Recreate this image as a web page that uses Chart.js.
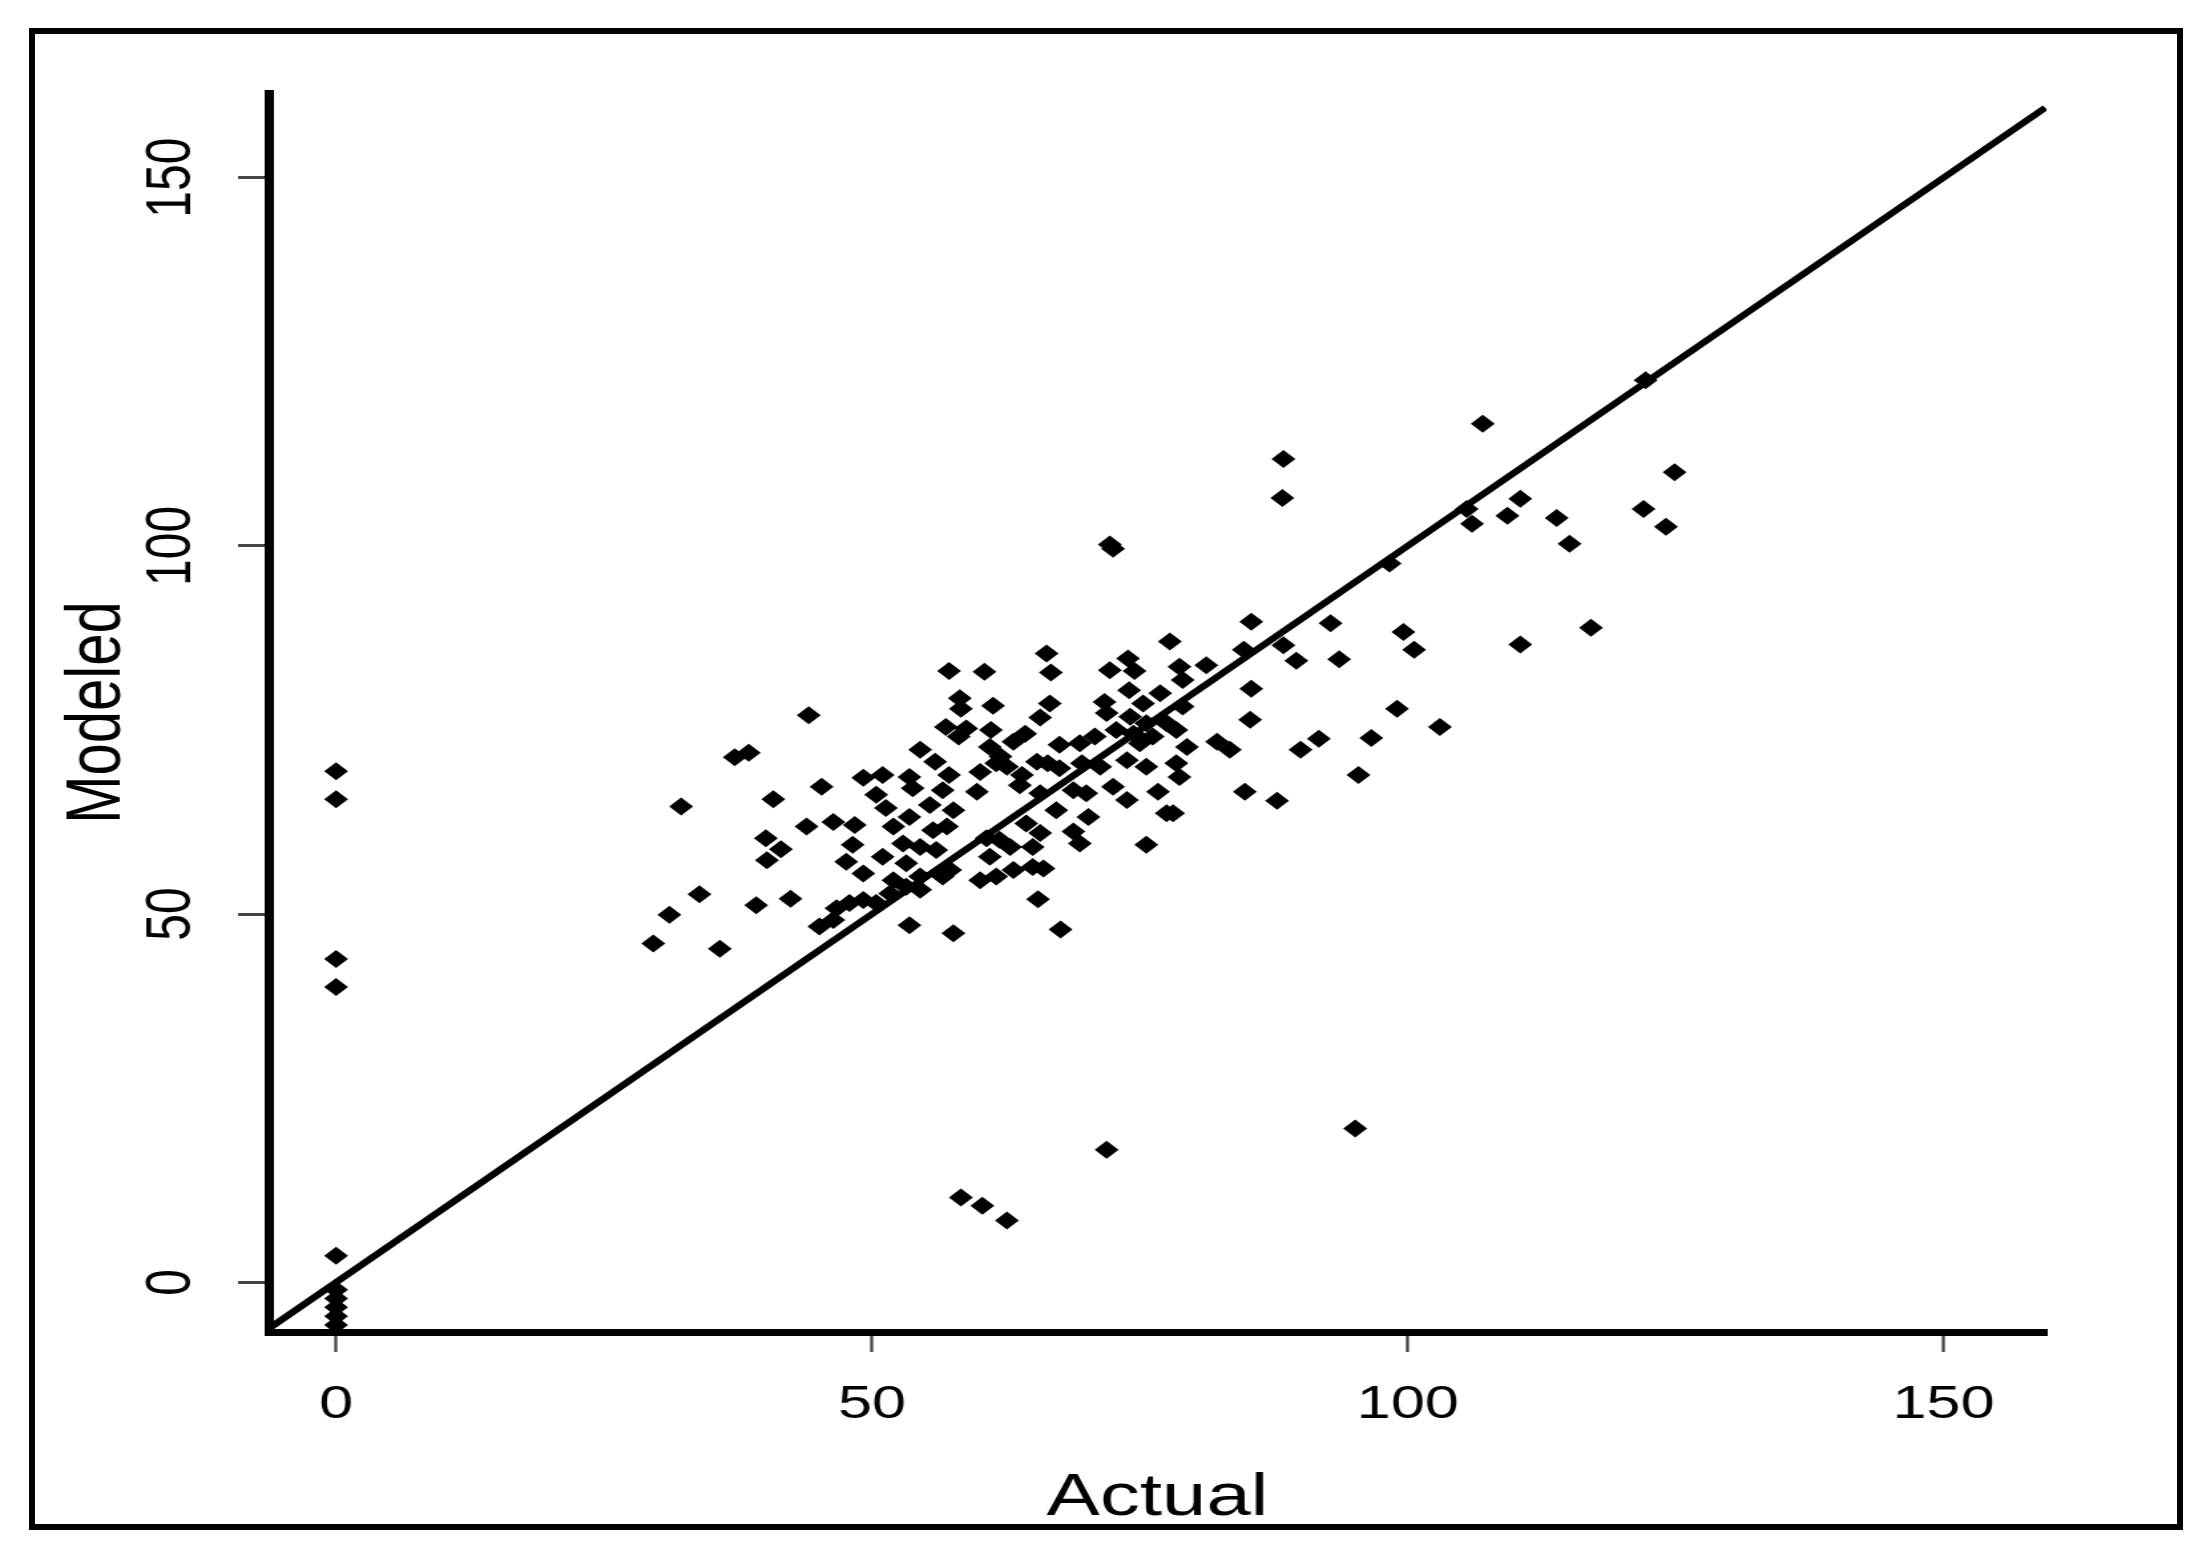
<!DOCTYPE html>
<html>
<head>
<meta charset="utf-8">
<script src="https://cdn.jsdelivr.net/npm/chart.js@4.4.1/dist/chart.umd.min.js"></script>
<style>
  html, body { margin: 0; padding: 0; background: #fff; overflow: hidden; }
  #stage { position: relative; width: 2206px; height: 1560px; }
  /* the original figure is stretched sideways, so the chart is drawn narrow and widened */
  #stretch { position: absolute; left: 0; top: 0; width: 1659px; height: 1560px; transform: scaleX(1.3297); transform-origin: 0 0; }
  #frame { position: absolute; left: 29px; top: 28px; width: 2154px; height: 1502px; border: 6px solid #000; box-sizing: border-box; pointer-events: none; }
</style>
</head>
<body>
<div id="stage">
  <div id="stretch"><canvas id="chart" width="1659" height="1560"></canvas></div>
  <div id="frame"></div>
</div>
<script>
// Actual vs modeled values
const actual = [
  0, 0, 0, 0, 0, 0, 0, 0, 0, 0,
  58.3, 60.3, 62.6, 71.9, 95.1,
  44.1, 37.2, 38.5, 49.2, 51.0,
  66.3, 57.2, 60.5, 66.7, 77.8, 73.9, 72.2, 74.5,
  58.2, 58.3, 61.3, 66.6, 65.7, 71.7, 71.9, 74.0, 75.3, 76.9,
  74.1, 75.6, 74.4, 76.2, 72.8, 77.5, 75.0,
  56.9, 58.8, 58.1, 61.1, 63.2, 64.3, 54.5, 55.9,
  61.0, 62.0, 61.6, 67.5, 69.4, 70.8,
  65.4, 66.4, 67.5, 69.6, 71.3, 73.8, 75.6,
  57.2, 60.1, 62.6, 53.5, 64.0,
  85.4, 92.8, 99.6, 100.6, 88.4, 89.6, 93.6, 84.7, 81.2, 78.7, 79.0, 79.0, 85.4,
  85.3, 99.0, 103.0, 82.2, 83.4, 91.7, 90.0, 96.6, 95.4, 78.4, 79.4, 78.4, 78.7,
  32.2, 40.8, 45.3, 40.1, 41.5, 40.2, 43.9, 46.4, 48.4, 50.4, 51.3, 52.0, 48.2, 47.6, 49.2,
  51.0, 52.0, 33.9, 39.2, 42.4, 31.1, 29.6, 35.8, 45.1, 46.7, 47.9, 49.2, 50.4, 46.4, 51.7,
  59.8, 56.6, 53.8, 55.4, 57.6, 53.5, 57.0, 55.7, 52.9, 54.5, 53.2, 56.0, 54.5, 53.2, 57.3,
  57.6, 53.5, 65.5, 67.6, 75.6, 76.7, 77.5, 70.2, 68.8, 69.4, 73.8, 72.5, 70.0, 68.8, 67.2,
  65.7, 64.4, 62.9, 61.0, 60.1, 61.6, 63.2, 65.0, 66.0, 61.9, 65.0, 63.8, 65.7, 60.7, 56.6, 54.5,
  84.8, 87.8, 78.1,
  107.0, 88.4, 88.3, 124.9, 110.5, 122.0, 124.1, 109.3, 113.9, 115.1, 105.5, 106.0,
  122.2, 98.3, 110.5, 117.1, 72.2, 72.5
];
const modeled = [
  69.4, 65.6, 43.9, 40.1, 3.6, -1.0, -2.2, -3.4, -4.6, -5.8,
  11.5, 10.4, 8.4, 18.0, 20.9,
  77.0, 71.3, 71.9, 68.5, 68.9,
  85.4, 83.0, 82.9, 82.8, 87.0, 84.7, 83.1, 83.0,
  79.3, 77.9, 78.3, 78.6, 76.7, 78.8, 77.3, 80.4, 78.6, 80.0,
  76.8, 75.9, 74.5, 74.1, 75.0, 75.9, 73.2,
  75.4, 75.2, 74.1, 75.0, 73.4, 74.5, 72.3, 70.7,
  72.7, 71.4, 70.5, 73.0, 73.2, 74.1,
  70.7, 70.5, 69.8, 70.5, 70.0, 70.9, 70.0,
  68.9, 69.3, 70.0, 68.6, 68.9,
  89.7, 89.5, 88.3, 85.9, 86.5, 84.4, 84.6, 85.9, 83.8, 83.6, 81.8, 78.2, 80.6,
  76.4, 77.9, 75.4, 73.4, 72.3, 73.8, 72.3, 73.9, 68.9, 75.0, 72.7, 70.5, 68.6,
  64.6, 65.6, 67.3, 60.3, 58.8, 57.3, 61.9, 62.5, 62.1, 66.2, 64.4, 61.9, 59.4, 57.1, 55.5,
  57.8, 54.6, 52.7, 51.2, 52.1, 49.9, 46.0, 45.3, 48.3, 50.8, 51.5, 51.9, 51.5, 49.2, 52.8,
  66.6, 66.8, 67.1, 64.8, 64.1, 63.2, 61.9, 61.4, 59.6, 59.1, 56.9, 58.7, 55.1, 53.7, 56.0,
  47.4, 48.5, 52.0, 47.9, 59.4, 66.6, 63.7, 63.2, 61.2, 59.6, 65.5, 67.3, 66.4, 66.8, 64.1,
  61.0, 62.3, 59.1, 57.8, 54.6, 55.1, 56.0, 56.4, 56.2, 60.1, 59.1, 67.5, 66.4, 60.3, 55.1, 53.3,
  66.6, 65.4, 63.7,
  116.6, 111.8, 106.5, 110.0, 106.4, 105.0, 102.6, 104.1, 103.8, 100.3, 105.0, 103.0,
  122.5, 97.6, 86.6, 88.9, 100.2, 99.6
];
// ends of the 1:1 line
const lineEnds = [-6.3, 159.5];
const xTicks = [0, 50, 100, 150];
const yTicks = [0, 50, 100, 150];

const family = "'Liberation Sans', Arial, sans-serif";
const points = actual.map((a, i) => ({ x: a, y: modeled[i] }));
const oneToOne = lineEnds.map(v => ({ x: v, y: v }));

new Chart(document.getElementById('chart'), {
  type: 'scatter',
  data: {
    datasets: [
      {
        label: 'Modeled vs Actual',
        data: points,
        pointStyle: 'rectRot',
        pointRadius: 9,
        backgroundColor: '#000',
        borderWidth: 0,
        clip: false,
        order: 2
      },
      {
        label: '1:1',
        data: oneToOne,
        showLine: true,
        borderColor: '#000',
        borderWidth: 6,
        pointRadius: 0,
        fill: false,
        order: 1
      }
    ]
  },
  options: {
    responsive: false,
    animation: false,
    devicePixelRatio: 1,
    layout: { padding: { left: 0, top: 93, right: 120, bottom: 0 } },
    plugins: {
      legend: { display: false },
      tooltip: { enabled: false }
    },
    scales: {
      x: {
        type: 'linear',
        min: -6.3,
        max: 159.6,
        afterBuildTicks: scale => { scale.ticks = xTicks.map(v => ({ value: v })); },
        afterFit: scale => { scale.height = 228; },
        border: { display: true, color: '#000', width: 7 },
        grid: { drawOnChartArea: false, drawTicks: true, tickLength: 20, tickWidth: 2.3, tickColor: '#444' },
        ticks: { color: '#000', font: { family: family, size: 46 }, padding: 26, maxRotation: 0, minRotation: 0 },
        title: { display: true, text: 'Actual', color: '#000', font: { family: family, size: 60 }, padding: { top: 0, bottom: 26 } }
      },
      y: {
        type: 'linear',
        min: -6.75,
        max: 161.5,
        afterBuildTicks: scale => { scale.ticks = yTicks.map(v => ({ value: v })); },
        afterFit: scale => { scale.width = 202; },
        border: { display: true, color: '#000', width: 7 },
        grid: { drawOnChartArea: false, drawTicks: true, tickLength: 23, tickWidth: 3, tickColor: '#444' },
        ticks: { color: '#000', font: { family: family, size: 48 }, padding: 9, minRotation: 90, maxRotation: 90, crossAlign: 'center' },
        title: { display: true, text: 'Modeled', color: '#000', font: { family: family, size: 58 }, padding: { top: 39, bottom: 0 } }
      }
    }
  }
});
</script>
</body>
</html>
